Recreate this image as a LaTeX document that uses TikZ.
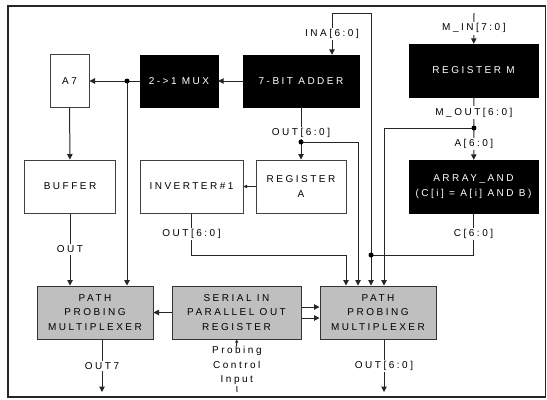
\documentclass[tikz,border=0pt]{standalone}
\usepackage{fontspec}
\setmainfont{Liberation Sans}[LetterSpace=25]
\usetikzlibrary{arrows.meta,positioning}

\tikzstyle{blkbox} = [draw=black, fill=black, text=white, minimum height=52bp,
                      align=center, inner sep=0pt]
\tikzstyle{whtbox} = [draw=black!75, fill=white, line width=1bp, minimum height=53bp,
                      align=center, inner sep=0pt]
\tikzstyle{grybox} = [draw=black!80, fill=black!25, line width=1bp, minimum height=53bp,
                      align=center, inner sep=0pt]
\tikzstyle{lab}    = [fill=white, inner sep=1.5bp, align=center]
\tikzstyle{wire}   = [black!85, line width=1bp]
\tikzstyle{arr}    = [wire, -{Triangle[length=5.5bp,width=5.5bp]}]
\tikzstyle{dot}    = [circle, fill=black, inner sep=0pt, minimum size=5bp]

\begin{document}
\begin{tikzpicture}[x=1bp, y=-1bp,
    every node/.style={font=\fontsize{10bp}{14.5bp}\selectfont, text=black}]
  \useasboundingbox (0,0) rectangle (547,399);
  \draw[line width=1.6bp, black!85] (8,6) rectangle (545.5,397);

  % top row
  \node[whtbox, minimum width=39bp]  (a7)    at (69.5,81)  {A7};
  \node[blkbox, minimum width=78bp]  (mux)   at (179,81)   {2->1 MUX};
  \node[blkbox, minimum width=116bp] (adder) at (301,81)   {7-BIT ADDER};
  \node[blkbox, minimum width=129bp, minimum height=53bp] (regm) at (473.5,70.5) {REGISTER M};

  % middle row
  \node[whtbox, minimum width=90bp]  (buf)   at (70,186.5)  {BUFFER};
  \node[whtbox, minimum width=103bp] (inv)   at (191.5,186.5) {INVERTER\#1};
  \node[whtbox, minimum width=90bp]  (rega)  at (301,186.5) {REGISTER\\A};
  \node[blkbox, minimum width=129bp, minimum height=53bp] (arr) at (473.5,186.5)
       {ARRAY\_AND\\(C[i] = A[i] AND B)};

  % bottom row
  \node[grybox, minimum width=116bp] (ppma)  at (95,312.5)   {PATH\\PROBING\\MULTIPLEXER};
  \node[grybox, minimum width=129bp] (sipo)  at (236.5,312.5) {SERIAL IN\\PARALLEL OUT\\REGISTER};
  \node[grybox, minimum width=116bp] (ppmb)  at (378,312.5)  {PATH\\PROBING\\MULTIPLEXER};

  % junctions and free ends
  \coordinate (jmux) at (127,81);
  \coordinate (jadd) at (301,142);
  \coordinate (jm)   at (474,128);
  \coordinate (jc)   at (371,255);
  \coordinate (ina)  at (371,13);
  \coordinate (min)  at (474,13);
  \coordinate (o7)   at (102,392);
  \coordinate (o6)   at (384,392);
  \coordinate (pci)  at (237,392);

  \draw[arr] (adder) -- (mux);
  \draw[arr] (mux) -- (a7);
  \draw[arr] (jmux) -- (jmux |- ppma.north);
  \draw[arr] (a7) -- (buf);
  \draw[arr] (buf) -- node[lab]{OUT} (buf.south |- ppma.north);
  \draw[arr] (ppma.south -| o7) -- node[lab]{OUT7} (o7);

  \draw[arr] (sipo) -- (ppma);
  \draw[arr] ([yshift=5.5bp]sipo.east) -- ([yshift=5.5bp]ppmb.west);
  \draw[arr] ([yshift=-5.5bp]sipo.east) -- ([yshift=-5.5bp]ppmb.west);
  \draw[wire, -{Triangle[length=3bp,width=3bp]}] (pci) --
    node[lab, inner sep=1bp]{Probing\\Control\\Input} (sipo);

  \draw[arr] (ina) |- ([xshift=31bp]adder.north |- ina) -- node[lab]{INA[6:0]} ([xshift=31bp]adder.north);
  \draw[arr] (ina) -- (ina |- ppmb.north);

  \draw[wire] (adder) -- node[lab, pos=0.75]{OUT[6:0]} (jadd);
  \draw[arr] (jadd) -- (rega);
  \draw[arr] (jadd) -| ([xshift=-20bp]ppmb.north);
  \draw[wire, -{Triangle[length=3.5bp,width=3.5bp]}] (rega) -- (inv);
  \draw[arr] (inv.south) -- node[lab]{OUT[6:0]} (inv.south |- jc)
    -| ([xshift=-32bp]ppmb.north);

  \draw[arr] (min) -- node[lab]{M\_IN[7:0]} (regm);
  \draw[wire] (regm) -- node[lab]{M\_OUT[6:0]} (jm);
  \draw[arr] (jm) -- node[lab]{A[6:0]} (arr);
  \draw[arr] (jm) -| ([xshift=6bp]ppmb.north);
  \draw[wire] (arr.south) -- node[lab]{C[6:0]} (arr.south |- jc) -- (jc);
  \draw[arr] (ppmb.south -| o6) -- node[lab]{OUT[6:0]} (o6);

  \node[dot] (djmux) at (jmux) {};
  \node[dot] (djadd) at (jadd) {};
  \node[dot] (djm)   at (jm)   {};
  \node[dot] (djc)   at (jc)   {};
\end{tikzpicture}
\end{document}
